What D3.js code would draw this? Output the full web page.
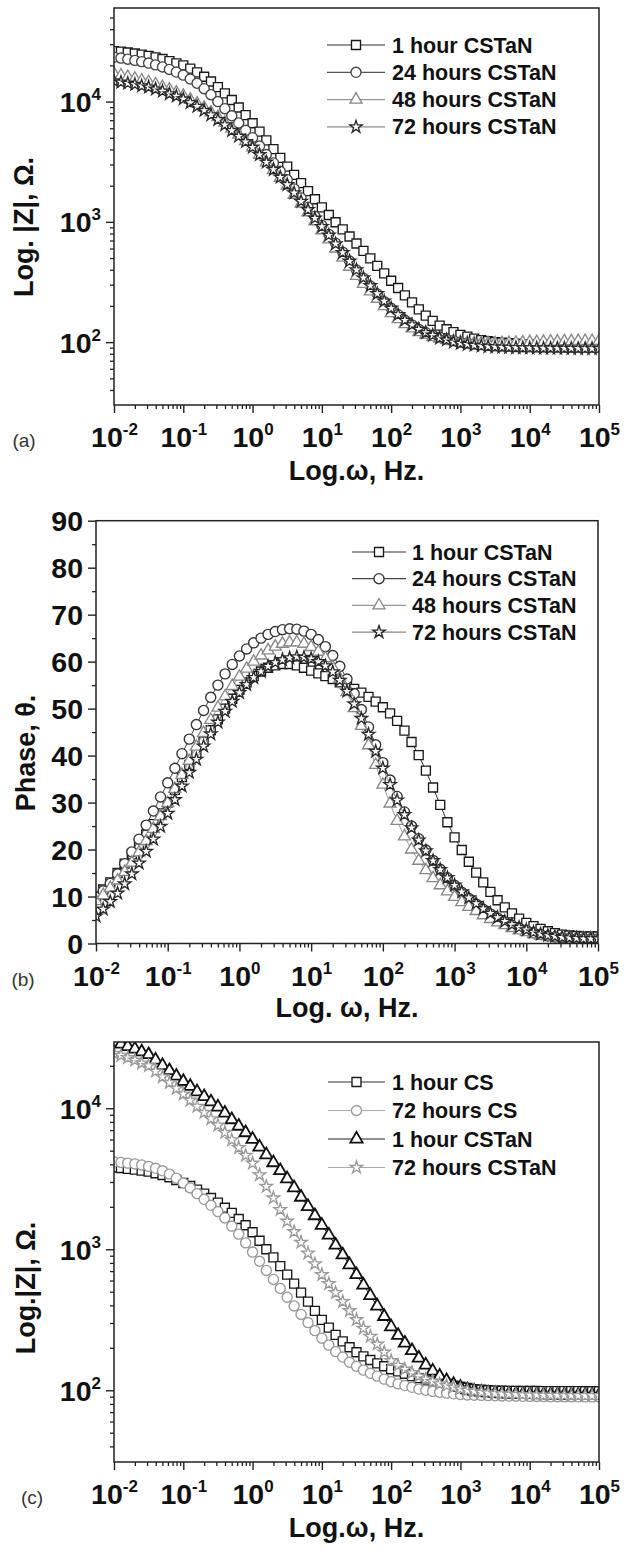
<!DOCTYPE html>
<html>
<head>
<meta charset="utf-8">
<script src="https://cdn.jsdelivr.net/npm/d3@7"></script>
<style>
  body { margin: 0; background: #fff; }
  svg text { font-family: "Liberation Sans", Arial, sans-serif; }
</style>
</head>
<body>
<svg id="fig" width="636" height="1557"></svg>
<script>
// frequency sweep, Hz (10 points per decade)
const freq = [0.01, 0.0126, 0.0158, 0.02, 0.0251, 0.0316, 0.0398, 0.0501, 0.0631, 0.0794,
  0.1, 0.126, 0.158, 0.2, 0.251, 0.316, 0.398, 0.501, 0.631, 0.794,
  1, 1.26, 1.58, 2, 2.51, 3.16, 3.98, 5.01, 6.31, 7.94,
  10, 12.6, 15.8, 20, 25.1, 31.6, 39.8, 50.1, 63.1, 79.4,
  100, 126, 158, 200, 251, 316, 398, 501, 631, 794,
  1000, 1260, 1580, 2000, 2510, 3160, 3980, 5010, 6310, 7940,
  10000, 12600, 15800, 20000, 25100, 31600, 39800, 50100, 63100, 79400,
  100000]

// (a) |Z|, ohm
const zA_1h = [26300, 26000, 25600, 25100, 24600, 24000, 23300, 22600, 21700, 20800,
  20000, 18800, 17500, 16100, 14700, 13200, 11700, 10300, 8930, 7710,
  6610, 5620, 4760, 4030, 3400, 2880, 2460, 2100, 1800, 1540,
  1320, 1140, 993, 865, 755, 661, 573, 497, 431, 373,
  324, 282, 245, 214, 187, 166, 150, 137, 128, 121,
  115, 111, 107, 104, 102, 100, 98.9, 97.9, 97.0, 96.2,
  95.5, 95.1, 94.6, 94.4, 94.0, 93.8, 93.5, 93.3, 93.3, 93.3,
  93.3]
const zA_24h = [23400, 23000, 22500, 22000, 21500, 20900, 20200, 19400, 18500, 17600,
  16600, 15400, 14200, 12800, 11400, 10000, 8730, 7620, 6640, 5770,
  5010, 4270, 3630, 3090, 2630, 2240, 1880, 1580, 1320, 1110,
  933, 787, 664, 560, 472, 398, 340, 293, 251, 217,
  191, 169, 152, 139, 128, 120, 114, 110, 106, 103,
  100, 98.2, 96.6, 95.3, 94.2, 93.3, 92.7, 92.3, 91.8, 91.6,
  91.4, 91.2, 91.0, 91.0, 90.8, 90.8, 90.6, 90.6, 90.5, 90.5,
  90.5]
const zA_48h = [17000, 16500, 16000, 15500, 15000, 14500, 13900, 13200, 12600, 11900,
  11200, 10400, 9660, 8890, 8130, 7410, 6680, 5970, 5300, 4700,
  4170, 3610, 3130, 2690, 2320, 2000, 1680, 1420, 1200, 1010,
  851, 714, 600, 504, 423, 355, 305, 264, 229, 199,
  174, 155, 141, 130, 121, 115, 110, 107, 104, 102,
  100, 99.1, 98.4, 97.9, 97.7, 97.7, 97.9, 98.4, 98.9, 99.3,
  100, 100, 100.5, 101, 101, 101.5, 101.5, 102, 102, 102,
  102]
const zA_72h = [14800, 14500, 14200, 13900, 13500, 13200, 12700, 12200, 11600, 11100,
  10500, 9790, 9120, 8430, 7740, 7080, 6400, 5730, 5150, 4630,
  4170, 3610, 3130, 2720, 2350, 2040, 1740, 1480, 1260, 1070,
  912, 773, 655, 555, 470, 398, 342, 294, 253, 219,
  191, 169, 152, 139, 128, 120, 114, 108, 104, 100,
  97.7, 95.7, 94.2, 92.9, 91.8, 91.2, 90.8, 90.4, 90.0, 89.7,
  89.5, 89.3, 89.1, 89.0, 88.9, 88.8, 88.7, 88.6, 88.5, 88.5,
  88.5]

// (b) phase angle, degrees
const phB_1h = [10, 11.5, 13, 15, 17, 19, 21, 23.2, 25.4, 27.7,
  30, 32.7, 35.4, 38, 40.5, 43, 45.4, 47.7, 50, 52.1,
  54, 55.6, 56.9, 57.9, 58.7, 59.2, 59.5, 59.5, 59.2, 58.7,
  58.1, 57.5, 56.9, 56.3, 55.6, 54.9, 54.2, 53.4, 52.5, 51.5,
  50.3, 49, 47.4, 45.3, 42.9, 40.1, 36.8, 33.2, 29.5, 25.8,
  22.6, 19.9, 17.4, 15.1, 13, 11, 9.2, 7.7, 6.4, 5.3,
  4.4, 3.7, 3.1, 2.6, 2.2, 1.9, 1.7, 1.6, 1.5, 1.5,
  1.5]
const phB_24h = [9.8, 11.2, 12.8, 14.8, 17, 19.5, 22.2, 25.2, 28.2, 31.2,
  34.2, 37.3, 40.4, 43.5, 46.6, 49.6, 52.4, 55, 57.4, 59.4,
  61.2, 62.7, 64, 65, 65.8, 66.4, 66.8, 67, 66.9, 66.5,
  65.8, 64.7, 63.2, 61.3, 59, 56.3, 53.2, 49.8, 46.1, 42.3,
  38.5, 34.8, 31.3, 28, 25, 22.3, 19.9, 17.7, 15.8, 14,
  12.4, 10.9, 9.6, 8.4, 7.3, 6.3, 5.4, 4.6, 3.9, 3.3,
  2.8, 2.3, 1.9, 1.6, 1.4, 1.2, 1.1, 1.0, 1.0, 1.0,
  1.0]
const phB_48h = [9, 10.3, 11.8, 13.4, 15.2, 17.2, 19.4, 21.8, 24.4, 27.1,
  29.9, 32.9, 35.9, 38.9, 41.9, 44.8, 47.6, 50.2, 52.6, 54.8,
  56.8, 58.5, 60, 61.3, 62.4, 63.2, 63.8, 64.1, 64.1, 63.8,
  63.1, 62.1, 60.7, 58.8, 56.4, 53.5, 50.1, 46.3, 42.2, 38,
  33.8, 29.8, 26.1, 22.8, 20, 17.6, 15.6, 13.9, 12.4, 11.1,
  9.9, 8.8, 7.8, 6.9, 6, 5.2, 4.5, 3.9, 3.3, 2.8,
  2.4, 2, 1.7, 1.5, 1.3, 1.2, 1.1, 1.0, 1.0, 1.0,
  1.0]
const phB_72h = [5.8, 7.3, 8.9, 10.7, 12.7, 14.8, 17.1, 19.6, 22.2, 24.9,
  27.7, 30.6, 33.5, 36.4, 39.2, 42, 44.6, 47.1, 49.4, 51.5,
  53.4, 55.1, 56.6, 57.9, 59, 59.8, 60.4, 60.8, 61, 60.9,
  60.6, 60, 59.1, 57.8, 56, 53.7, 51, 47.9, 44.5, 40.9,
  37.3, 33.8, 30.5, 27.4, 24.6, 22, 19.7, 17.6, 15.7, 14,
  12.4, 11, 9.7, 8.5, 7.4, 6.4, 5.5, 4.7, 4, 3.4,
  2.9, 2.4, 2, 1.7, 1.5, 1.3, 1.2, 1.1, 1.0, 1.0,
  1.0]

// (c) |Z|, ohm
const zC_1hCS = [3800, 3770, 3720, 3670, 3610, 3550, 3460, 3360, 3240, 3100,
  2950, 2810, 2650, 2480, 2310, 2140, 1970, 1810, 1640, 1480,
  1320, 1150, 1000, 875, 760, 661, 570, 492, 425, 366,
  316, 278, 247, 222, 202, 186, 174, 164, 155, 148,
  141, 136, 131, 126, 122, 119, 116, 113, 111, 108,
  106, 104, 102, 101, 100, 99.5, 99.3, 99.1, 99.0, 98.9,
  98.8, 98.8, 98.7, 98.7, 98.6, 98.6, 98.6, 98.6, 98.5, 98.5,
  98.5]
const zC_72hCS = [4170, 4130, 4080, 4030, 3960, 3870, 3750, 3600, 3410, 3190,
  2950, 2720, 2480, 2260, 2050, 1850, 1670, 1460, 1280, 1110,
  955, 822, 708, 611, 527, 457, 396, 345, 302, 265,
  234, 209, 188, 172, 158, 148, 139, 132, 126, 120,
  115, 111, 108, 105, 102, 100, 98.2, 96.8, 95.5, 94.4,
  93.3, 92.7, 92.3, 92.0, 91.6, 91.4, 91.2, 91.0, 90.8, 90.6,
  90.5, 90.4, 90.3, 90.2, 90.1, 90.0, 90.0, 89.9, 89.9, 89.8,
  89.8]
const zC_1hTaN = [29500, 28500, 27400, 26300, 25100, 24000, 22000, 20100, 18500, 16900,
  15500, 14300, 13100, 12100, 11100, 10200, 9230, 8300, 7460, 6710,
  6030, 5310, 4680, 4110, 3610, 3160, 2730, 2340, 2010, 1730,
  1480, 1260, 1070, 912, 776, 661, 557, 470, 396, 334,
  282, 245, 216, 191, 169, 151, 137, 126, 117, 110,
  105, 101, 98.6, 97.0, 95.9, 95.1, 94.6, 94.2, 93.8, 93.5,
  93.3, 93.1, 92.9, 92.8, 92.7, 92.6, 92.5, 92.4, 92.4, 92.3,
  92.3]
const zC_72hTaN = [24500, 23700, 22800, 21900, 20900, 20000, 18300, 16700, 15200, 13800,
  12600, 11400, 10300, 9330, 8410, 7590, 6730, 5960, 5260, 4630,
  4070, 3370, 2790, 2310, 1910, 1580, 1330, 1120, 938, 787,
  661, 570, 492, 425, 366, 316, 275, 241, 212, 186,
  162, 150, 141, 133, 126, 120, 115, 111, 108, 105,
  102, 99.8, 98.2, 96.8, 95.7, 94.8, 94.2, 93.7, 93.3, 92.9,
  92.6, 92.4, 92.2, 92.0, 91.9, 91.8, 91.7, 91.6, 91.5, 91.5,
  91.5]

// legend labels and tick labels
const labelsAB = ["1 hour CSTaN", "24 hours CSTaN", "48 hours CSTaN", "72 hours CSTaN"]
const labelsC = ["1 hour CS", "72 hours CS", "1 hour CSTaN", "72 hours CSTaN"]
const xTickExp = [-2, -1, 0, 1, 2, 3, 4, 5]
const yTickExpZ = [2, 3, 4]
const yTicksPhase = [0, 10, 20, 30, 40, 50, 60, 70, 80, 90]

const svg = d3.select("#fig")
const FONT = "Liberation Sans, Arial, sans-serif"
const sq = d3.symbolSquare, ci = d3.symbolCircle, tri = d3.symbolTriangle, star = d3.symbolStar

function superText(sel, base, exp) {
    sel.append("tspan").text(base)
    sel.append("tspan").attr("dy", -12).attr("font-size", 17).text(exp)
}

function drawPanel(p) {
    let g = svg.append("g")
    let x = d3.scaleLog().domain([0.01, 1e5]).range([p.left, p.right])
    let y = p.logY
        ? d3.scaleLog().domain(p.yDomain).range([p.bottom, p.top])
        : d3.scaleLinear().domain(p.yDomain).range([p.bottom, p.top])

    svg.append("clipPath").attr("id", "clip-" + p.id)
        .append("rect")
        .attr("x", p.left).attr("y", p.top)
        .attr("width", p.right - p.left).attr("height", p.bottom - p.top)

    //数据点和连线
    let plot = g.append("g").attr("clip-path", `url(#clip-${p.id})`)
    p.series.forEach(s => {
        let pts = freq.map((f, i) => [f, s.values[i]])
        plot.append("path")
            .attr("d", d3.line().x(d => x(d[0])).y(d => y(d[1]))(pts))
            .attr("fill", "none")
            .attr("stroke", s.line)
            .attr("stroke-width", 1)
        plot.append("g")
            .selectAll("path")
            .data(pts)
            .enter()
            .append("path")
            .attr("transform", d => `translate(${x(d[0])},${y(d[1])})`)
            .attr("d", d3.symbol(s.shape, s.size)())
            .attr("fill", "#fff")
            .attr("stroke", s.color)
            .attr("stroke-width", s.sw || 1.35)
    })

    // frame
    g.append("rect")
        .attr("x", p.left).attr("y", p.top)
        .attr("width", p.right - p.left).attr("height", p.bottom - p.top)
        .attr("fill", "none").attr("stroke", "#222").attr("stroke-width", 1.5)

    // x axis
    let xMinor = []
    for (let e = -2; e < 5; e++) for (let k = 2; k < 10; k++) xMinor.push(k * Math.pow(10, e))
    g.append("g")
        .attr("transform", `translate(0,${p.bottom})`)
        .attr("color", "#222")
        .call(d3.axisBottom(x).tickValues(xMinor).tickSize(4).tickFormat(""))
        .call(a => a.select(".domain").remove())
        .selectAll("line").attr("stroke-width", 1.3)
    let xAx = g.append("g")
        .attr("transform", `translate(0,${p.bottom})`)
        .attr("color", "#222")
        .call(d3.axisBottom(x).tickValues(xTickExp.map(e => Math.pow(10, e))).tickSize(8).tickFormat(""))
    xAx.select(".domain").remove()
    xAx.selectAll("line").attr("stroke-width", 1.4)
    xAx.selectAll(".tick").each(function (d, i) {
        let t = d3.select(this).append("text")
            .attr("y", 42).attr("text-anchor", "middle")
            .attr("fill", "#111").attr("font-family", FONT)
            .attr("font-size", 28.5).attr("font-weight", "bold")
        superText(t, "10", xTickExp[i])
    })

    // y axis
    let yAx = g.append("g").attr("transform", `translate(${p.left},0)`).attr("color", "#222")
    if (p.logY) {
        let yMinor = []
        for (let e = 1; e < 5; e++) for (let k = 2; k < 10; k++) {
            let v = k * Math.pow(10, e)
            if (v > p.yDomain[0] && v < p.yDomain[1]) yMinor.push(v)
        }
        yAx.append("g").call(d3.axisLeft(y).tickValues(yMinor).tickSize(4).tickFormat(""))
            .call(a => a.select(".domain").remove())
            .selectAll("line").attr("stroke-width", 1.3)
        let maj = yAx.append("g").call(d3.axisLeft(y).tickValues(yTickExpZ.map(e => Math.pow(10, e))).tickSize(8).tickFormat(""))
        maj.select(".domain").remove()
        maj.selectAll("line").attr("stroke-width", 1.4)
        maj.selectAll(".tick").each(function (d, i) {
            let t = d3.select(this).append("text")
                .attr("x", -13).attr("y", 10).attr("text-anchor", "end")
                .attr("fill", "#111").attr("font-family", FONT)
                .attr("font-size", 28.5).attr("font-weight", "bold")
            superText(t, "10", yTickExpZ[i])
        })
    } else {
        let yMinor = yTicksPhase.slice(0, -1).map(v => v + 5)
        yAx.append("g").call(d3.axisLeft(y).tickValues(yMinor).tickSize(4).tickFormat(""))
            .call(a => a.select(".domain").remove())
            .selectAll("line").attr("stroke-width", 1.3)
        let maj = yAx.append("g").call(d3.axisLeft(y).tickValues(yTicksPhase).tickSize(8).tickFormat(""))
        maj.select(".domain").remove()
        maj.selectAll("line").attr("stroke-width", 1.4)
        maj.selectAll(".tick").append("text")
            .attr("x", -13).attr("y", 10).attr("text-anchor", "end")
            .attr("fill", "#111").attr("font-family", FONT)
            .attr("font-size", 28.5).attr("font-weight", "bold")
            .text(d => d)
    }

    // titles
    g.append("text")
        .attr("x", (p.left + p.right) / 2).attr("y", p.bottom + p.xTitleDy)
        .attr("text-anchor", "middle").attr("fill", "#111")
        .attr("font-size", 27).attr("font-weight", "bold")
        .text(p.xTitle)
    g.append("text")
        .attr("transform", `translate(${p.yTitleX},${p.yTitleY}) rotate(-90)`)
        .attr("text-anchor", "middle").attr("fill", "#111")
        .attr("font-size", 27).attr("font-weight", "bold")
        .text(p.yTitle)
    g.append("text")
        .attr("x", p.tagX).attr("y", p.bottom + 42)
        .attr("text-anchor", "middle").attr("fill", "#333")
        .attr("font-size", 19)
        .text(p.tag)

    // legend
    let lg = g.append("g")
    p.series.forEach((s, i) => {
        let cy = p.legend.y + i * p.legend.dy
        lg.append("line")
            .attr("x1", p.legend.x1).attr("x2", p.legend.x2)
            .attr("y1", cy).attr("y2", cy)
            .attr("stroke", s.line).attr("stroke-width", 1.2)
        lg.append("path")
            .attr("transform", `translate(${(p.legend.x1 + p.legend.x2) / 2},${cy})`)
            .attr("d", d3.symbol(s.shape, s.size)())
            .attr("fill", "#fff").attr("stroke", s.color).attr("stroke-width", s.sw || 1.35)
        lg.append("text")
            .attr("x", p.legend.tx).attr("y", cy + 7.5)
            .attr("fill", "#111").attr("font-size", 21.5).attr("font-weight", "bold")
            .text(s.label)
    })
}

drawPanel({
    id: "a", left: 114, right: 599, top: 8, bottom: 405,
    logY: true, yDomain: [30, 60000],
    xTitle: "Log.ω, Hz.", xTitleDy: 75,
    yTitle: "Log. |Z|, Ω.", yTitleX: 33, yTitleY: 227,
    tag: "(a)", tagX: 24,
    legend: { x1: 327, x2: 385, tx: 392, y: 45, dy: 27.3 },
    series: [
        { label: labelsAB[0], values: zA_1h, shape: sq, size: 81, color: "#1a1a1a", line: "#333" },
        { label: labelsAB[1], values: zA_24h, shape: ci, size: 80, color: "#444", line: "#555" },
        { label: labelsAB[2], values: zA_48h, shape: tri, size: 62, color: "#888", line: "#999" },
        { label: labelsAB[3], values: zA_72h, shape: star, size: 48, color: "#2a2a2a", line: "#888" }
    ]
})

drawPanel({
    id: "b", left: 96, right: 598, top: 520.7, bottom: 943.5,
    logY: false, yDomain: [0, 90],
    xTitle: "Log. ω, Hz.", xTitleDy: 73,
    yTitle: "Phase, θ.", yTitleX: 35, yTitleY: 753,
    tag: "(b)", tagX: 23,
    legend: { x1: 352, x2: 406, tx: 412, y: 552, dy: 26.7 },
    series: [
        { label: labelsAB[0], values: phB_1h, shape: sq, size: 81, color: "#1a1a1a", line: "#333" },
        { label: labelsAB[1], values: phB_24h, shape: ci, size: 80, color: "#333", line: "#444" },
        { label: labelsAB[2], values: phB_48h, shape: tri, size: 62, color: "#888", line: "#999" },
        { label: labelsAB[3], values: phB_72h, shape: star, size: 48, color: "#2a2a2a", line: "#888" }
    ]
})

drawPanel({
    id: "c", left: 114, right: 599, top: 1042, bottom: 1462,
    logY: true, yDomain: [31, 29500],
    xTitle: "Log.ω, Hz.", xTitleDy: 75,
    yTitle: "Log.|Z|, Ω.", yTitleX: 35, yTitleY: 1288,
    tag: "(c)", tagX: 32,
    legend: { x1: 328, x2: 385, tx: 392, y: 1082, dy: 28.5 },
    series: [
        { label: labelsC[0], values: zC_1hCS, shape: sq, size: 81, color: "#1a1a1a", line: "#333" },
        { label: labelsC[1], values: zC_72hCS, shape: ci, size: 80, color: "#999", line: "#aaa" },
        { label: labelsC[2], values: zC_1hTaN, shape: tri, size: 66, color: "#111", line: "#222", sw: 1.8 },
        { label: labelsC[3], values: zC_72hTaN, shape: star, size: 48, color: "#999", line: "#aaa" }
    ]
})
</script>
</body>
</html>
